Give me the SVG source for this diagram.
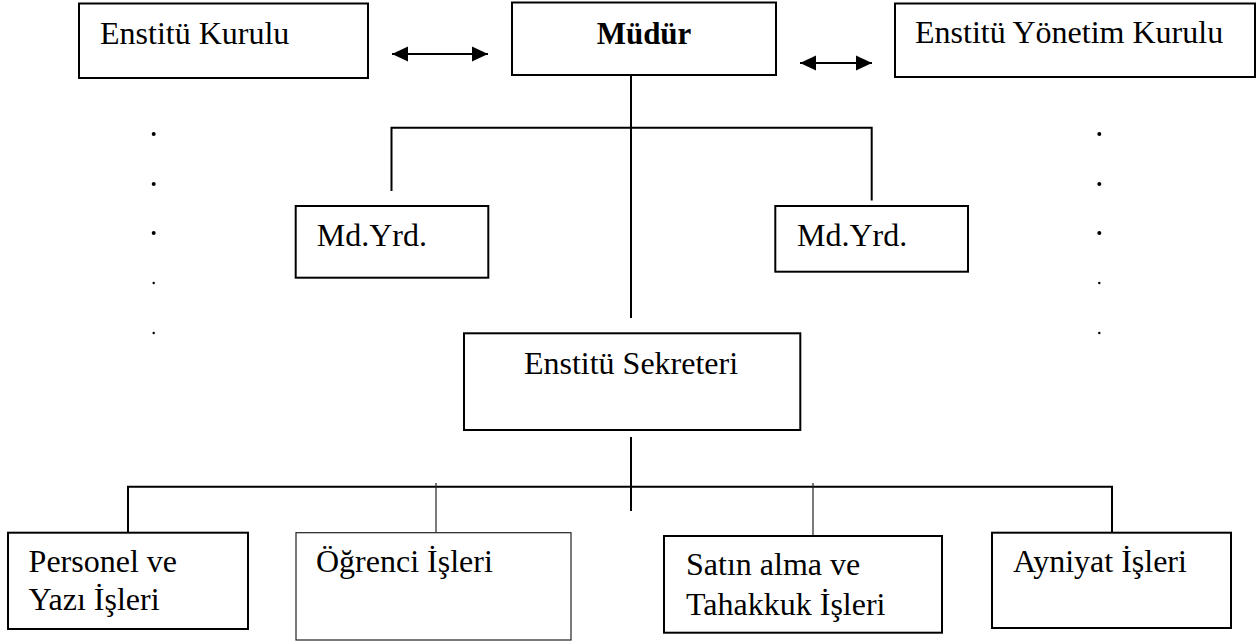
<svg xmlns="http://www.w3.org/2000/svg" width="1257" height="643" viewBox="0 0 1257 643">
<style>
.box{fill:#fff;stroke:#000;stroke-width:2}
.thinbox{fill:#fff;stroke:#222;stroke-width:1.2}
.t{font-family:"Liberation Serif","Times New Roman",serif;font-size:32px;fill:#000}
.b{font-weight:bold;font-size:31px}
.c{fill:none;stroke:#000;stroke-width:2}
.ct{fill:none;stroke:#222;stroke-width:1.2}
.dot{fill:#000}
</style>
<defs>
<marker id="ah" viewBox="0 0 16 16" refX="16" refY="8" markerWidth="16" markerHeight="16" markerUnits="userSpaceOnUse" orient="auto-start-reverse">
<path d="M0,0.5 L16,8 L0,15.5 z" fill="#000"/>
</marker>
</defs>
<rect width="1257" height="643" fill="#fff"/>
<g id="connectors">
<line class="c" x1="392" y1="54" x2="488" y2="54" marker-start="url(#ah)" marker-end="url(#ah)"/>
<line class="c" x1="800" y1="63" x2="872" y2="63" marker-start="url(#ah)" marker-end="url(#ah)"/>
<line class="c" x1="631" y1="75" x2="631" y2="318"/>
<polyline class="c" points="391.5,191 391.5,127.7 871.7,127.7 871.7,200.5"/>
<line class="c" x1="631" y1="437" x2="631" y2="511"/>
<polyline class="c" points="128,532 128,486.7 1112,486.7 1112,532"/>
<line class="ct" x1="436" y1="483" x2="436" y2="536"/>
<line class="ct" x1="813" y1="483" x2="813" y2="536"/>
</g>
<g id="dots-left">
<circle class="dot" cx="153.7" cy="134" r="2"/>
<circle class="dot" cx="153.7" cy="184" r="2"/>
<circle class="dot" cx="153.7" cy="233" r="2"/>
<circle class="dot" cx="153.7" cy="283" r="1.2"/>
<circle class="dot" cx="153.7" cy="333" r="1.2"/>
</g>
<g id="dots-right">
<circle class="dot" cx="1099.3" cy="134" r="2"/>
<circle class="dot" cx="1099.3" cy="184" r="2"/>
<circle class="dot" cx="1099.3" cy="233" r="2"/>
<circle class="dot" cx="1099.3" cy="283" r="1.2"/>
<circle class="dot" cx="1099.3" cy="333" r="1.2"/>
</g>
<g id="enstitu-kurulu">
<rect class="box" x="79" y="3.5" width="289" height="74.5"/>
<text class="t" x="100" y="44">Enstitü Kurulu</text>
</g>
<g id="mudur">
<rect class="box" x="512" y="2.5" width="264" height="72.5"/>
<text class="t b" x="644" y="44" text-anchor="middle">Müdür</text>
</g>
<g id="enstitu-yonetim-kurulu">
<rect class="box" x="895" y="3.5" width="360" height="73.5"/>
<text class="t" x="915" y="43.3">Enstitü Yönetim Kurulu</text>
</g>
<g id="md-yrd-left">
<rect class="box" x="295.7" y="206" width="192.6" height="71.7"/>
<text class="t" x="316.7" y="245.5">Md.Yrd.</text>
</g>
<g id="md-yrd-right">
<rect class="box" x="775.3" y="206" width="192.7" height="65.7"/>
<text class="t" x="797" y="245.5">Md.Yrd.</text>
</g>
<g id="enstitu-sekreteri">
<rect class="box" x="464" y="333.3" width="336.3" height="96.7"/>
<text class="t" x="631" y="374" text-anchor="middle">Enstitü Sekreteri</text>
</g>
<g id="personel">
<rect class="box" x="8" y="532.7" width="240" height="96.3"/>
<text class="t" x="28.6" y="571.7">Personel ve</text>
<text class="t" x="28.6" y="610">Yazı İşleri</text>
</g>
<g id="ogrenci">
<rect class="thinbox" x="296" y="532.7" width="275" height="107.3"/>
<text class="t" x="316" y="571.7">Öğrenci İşleri</text>
</g>
<g id="satin-alma">
<rect class="box" x="664" y="536" width="278" height="96.7"/>
<text class="t" x="686" y="575">Satın alma ve</text>
<text class="t" x="686" y="615">Tahakkuk İşleri</text>
</g>
<g id="ayniyat">
<rect class="box" x="992" y="532.7" width="239" height="95.3"/>
<text class="t" x="1013" y="571.7">Ayniyat İşleri</text>
</g>
</svg>
